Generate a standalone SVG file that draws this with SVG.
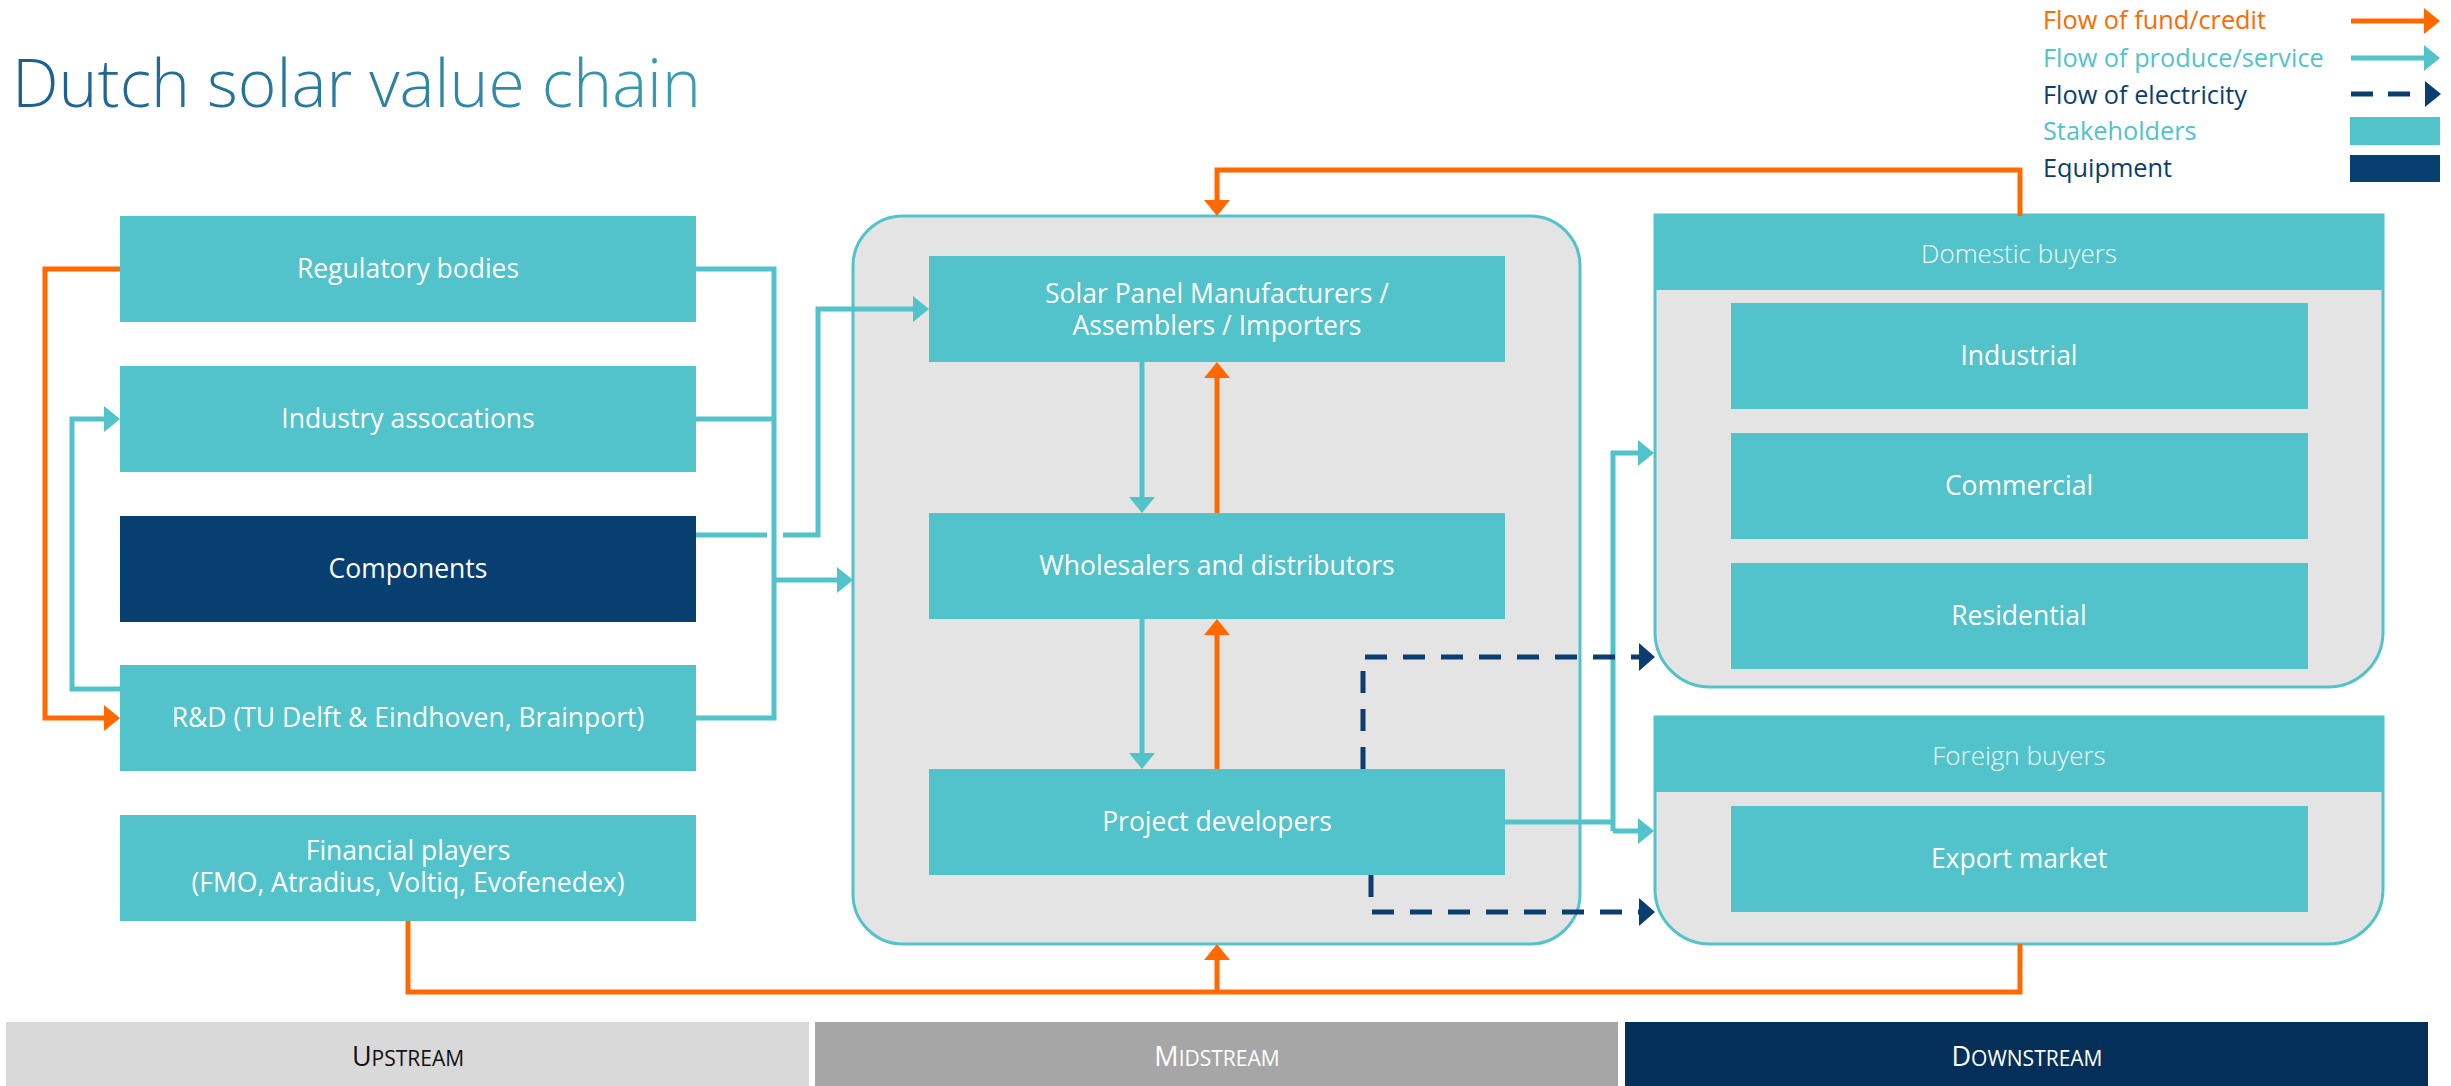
<svg xmlns="http://www.w3.org/2000/svg" width="2451" height="1086" viewBox="0 0 2451 1086">
<defs>
<style>
.lbl{font-family:"Open Sans","Liberation Sans",sans-serif;font-size:26.5px;fill:#ffffff;text-anchor:middle}
.hdr{font-family:"Open Sans","Liberation Sans",sans-serif;font-size:26px;font-weight:300;fill:#f0fbfb;text-anchor:middle}
.leg{font-family:"Open Sans","Liberation Sans",sans-serif;font-size:25.3px}
.bar{font-family:"Open Sans","Liberation Sans",sans-serif;text-anchor:middle}
.teal{fill:#52c3ca}
.navyf{fill:#073f71}
.box{fill:#52c3ca}
.cont{fill:#e4e4e4;stroke:#52c3ca;stroke-width:3}
.ct{fill:none;stroke:#52c3ca;stroke-width:5}
.co{fill:none;stroke:#ff6900;stroke-width:5}
.cn{fill:none;stroke:#0b3e6e;stroke-width:5;stroke-dasharray:22 16}
</style>
<linearGradient id="tg" x1="0" y1="0" x2="1" y2="0">
<stop offset="0" stop-color="#1c5f8e"/>
<stop offset="1" stop-color="#3a9db2"/>
</linearGradient>
<marker id="ao" markerUnits="userSpaceOnUse" markerWidth="16" markerHeight="26" refX="6" refY="13" orient="auto"><path d="M0,0 L16,13 L0,26 Z" fill="#ff6900"/></marker>
<marker id="at" markerUnits="userSpaceOnUse" markerWidth="16" markerHeight="26" refX="6" refY="13" orient="auto"><path d="M0,0 L16,13 L0,26 Z" fill="#52c3ca"/></marker>
<marker id="an" markerUnits="userSpaceOnUse" markerWidth="16" markerHeight="28" refX="6" refY="14" orient="auto"><path d="M0,0 L16,14 L0,28 Z" fill="#0b3e6e"/></marker>
</defs>
<rect width="2451" height="1086" fill="#ffffff"/>

<text x="12" y="107" font-family="'Open Sans','Liberation Sans',sans-serif" font-size="66" font-weight="300" fill="url(#tg)">Dutch solar value chain</text>

<g id="legend">
<text class="leg" x="2043" y="29" fill="#ff6900">Flow of fund/credit</text>
<text class="leg" x="2043" y="67" fill="#52c3ca">Flow of produce/service</text>
<text class="leg" x="2043" y="104" fill="#0b3e6e">Flow of electricity</text>
<text class="leg" x="2043" y="140" fill="#52c3ca">Stakeholders</text>
<text class="leg" x="2043" y="177" fill="#0b3e6e">Equipment</text>
<path class="co" d="M2351,21 H2430" marker-end="url(#ao)"/>
<path class="ct" d="M2351,58 H2430" marker-end="url(#at)"/>
<path d="M2351,94 H2373 M2388,94 H2410" stroke="#0b3e6e" stroke-width="5" fill="none"/>
<path d="M2425,81 L2441,94 L2425,107 Z" fill="#0b3e6e"/>
<rect x="2350" y="117" width="90" height="28" class="teal"/>
<rect x="2350" y="155" width="90" height="27" class="navyf"/>
</g>

<g id="midstream-container"><rect class="cont" x="853" y="216" width="727" height="728" rx="50" ry="50"/></g>

<g id="domestic-buyers">
<path class="cont" d="M1655,215 H2383 V632 A55,55 0 0 1 2328,687 H1710 A55,55 0 0 1 1655,632 Z"/>
<rect x="1654" y="215" width="730" height="75" class="box"/>
<text class="hdr" x="2019" y="263">Domestic buyers</text>
</g>
<g id="foreign-buyers">
<path class="cont" d="M1655,717 H2383 V889 A55,55 0 0 1 2328,944 H1710 A55,55 0 0 1 1655,889 Z"/>
<rect x="1654" y="717" width="730" height="75" class="box"/>
<text class="hdr" x="2019" y="765">Foreign buyers</text>
</g>

<g id="regulatory"><rect x="120" y="216" width="576" height="106" class="box"/><text class="lbl" x="408" y="278">Regulatory bodies</text></g>
<g id="industry"><rect x="120" y="366" width="576" height="106" class="box"/><text class="lbl" x="408" y="428">Industry assocations</text></g>
<g id="components"><rect x="120" y="516" width="576" height="106" class="navyf"/><text class="lbl" x="408" y="578">Components</text></g>
<g id="rnd"><rect x="120" y="665" width="576" height="106" class="box"/><text class="lbl" x="408" y="727">R&amp;D (TU Delft &amp; Eindhoven, Brainport)</text></g>
<g id="financial"><rect x="120" y="815" width="576" height="106" class="box"/><text class="lbl" x="408" y="860">Financial players</text><text class="lbl" x="408" y="892">(FMO, Atradius, Voltiq, Evofenedex)</text></g>

<g id="solar"><rect x="929" y="256" width="576" height="106" class="box"/><text class="lbl" x="1217" y="303">Solar Panel Manufacturers /</text><text class="lbl" x="1217" y="335">Assemblers / Importers</text></g>
<g id="wholesalers"><rect x="929" y="513" width="576" height="106" class="box"/><text class="lbl" x="1217" y="575">Wholesalers and distributors</text></g>
<g id="developers"><rect x="929" y="769" width="576" height="106" class="box"/><text class="lbl" x="1217" y="831">Project developers</text></g>

<g id="industrial"><rect x="1731" y="303" width="577" height="106" class="box"/><text class="lbl" x="2019" y="365">Industrial</text></g>
<g id="commercial"><rect x="1731" y="433" width="577" height="106" class="box"/><text class="lbl" x="2019" y="495">Commercial</text></g>
<g id="residential"><rect x="1731" y="563" width="577" height="106" class="box"/><text class="lbl" x="2019" y="625">Residential</text></g>
<g id="export"><rect x="1731" y="806" width="577" height="106" class="box"/><text class="lbl" x="2019" y="868">Export market</text></g>

<g id="connectors">
<path class="co" d="M120,269 H45 V718 H110" marker-end="url(#ao)"/>
<path class="ct" d="M120,689 H72 V419 H110" marker-end="url(#at)"/>
<path class="ct" d="M696,269 H774 V718 H696 M696,419 H774"/>
<path class="ct" d="M774,580 H843" marker-end="url(#at)"/>
<path class="ct" d="M696,535 H767"/>
<path class="ct" d="M783,535 H818 V309 H919" marker-end="url(#at)"/>
<path class="ct" d="M1142,362 V503" marker-end="url(#at)"/>
<path class="ct" d="M1142,619 V759" marker-end="url(#at)"/>
<path class="co" d="M1217,513 V372" marker-end="url(#ao)"/>
<path class="co" d="M1217,769 V629" marker-end="url(#ao)"/>
<path class="co" d="M2020,216 V170 H1217 V206" marker-end="url(#ao)"/>
<path class="co" d="M408,921 V992 H2020 V944"/>
<path class="co" d="M1217,992 V954" marker-end="url(#ao)"/>
<path class="ct" d="M1505,822 H1613"/>
<path class="ct" d="M1613,831 V453 H1644" marker-end="url(#at)"/>
<path class="ct" d="M1613,831 H1644" marker-end="url(#at)"/>
<path class="cn" d="M1363,769 V657 H1645" marker-end="url(#an)"/>
<path class="cn" d="M1371,875 V912 H1645" marker-end="url(#an)"/>
</g>

<g id="bars">
<rect x="6" y="1022" width="803" height="64" fill="#d9d9d9"/>
<rect x="815" y="1022" width="803" height="64" fill="#a6a6a6"/>
<rect x="1625" y="1022" width="803" height="64" fill="#032f59"/>
<text class="bar" x="408" y="1066" fill="#111111"><tspan font-size="27">U</tspan><tspan font-size="21">PSTREAM</tspan></text>
<text class="bar" x="1217" y="1066" fill="#ffffff"><tspan font-size="27">M</tspan><tspan font-size="21">IDSTREAM</tspan></text>
<text class="bar" x="2027" y="1066" fill="#ffffff"><tspan font-size="27">D</tspan><tspan font-size="21">OWNSTREAM</tspan></text>
</g>
</svg>
